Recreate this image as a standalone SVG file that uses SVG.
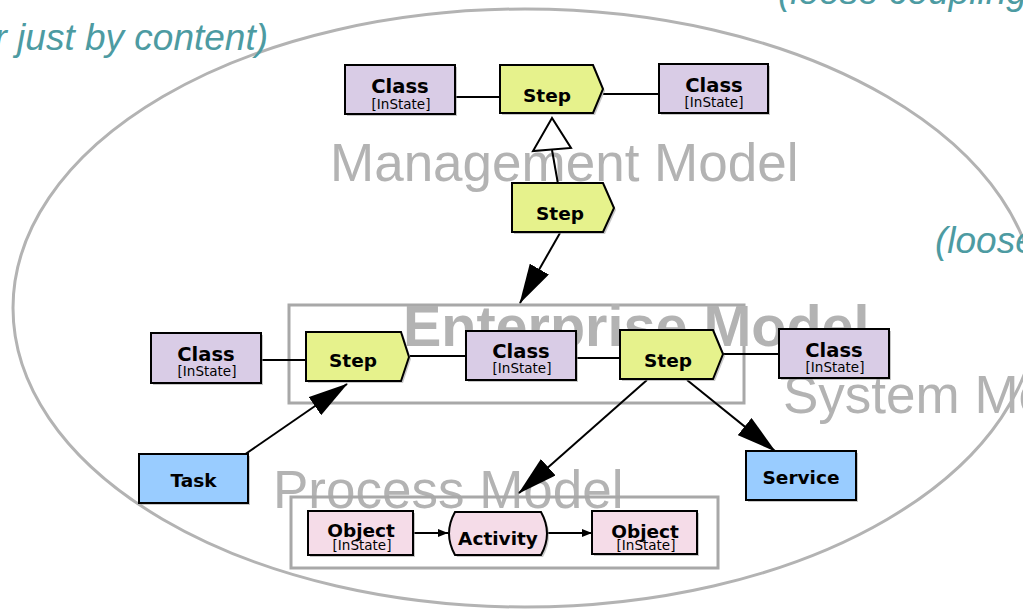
<svg xmlns="http://www.w3.org/2000/svg" width="1023" height="610" viewBox="0 0 1023 610">
<style>
.note{font-family:"Liberation Sans",Arial,sans-serif;font-style:italic;font-size:37px;fill:#4d9ba2}
.model{font-family:"Liberation Sans",Arial,sans-serif;font-size:53px;fill:#b3b3b3}
.frame{fill:none;stroke:#a8a8a8;stroke-width:3}
.sh{fill:#9a9a9a;opacity:.55}
.cls{fill:#d9cce6;stroke:#000;stroke-width:2}
.step{fill:#e6f28c;stroke:#000;stroke-width:2}
.blue{fill:#99ccff;stroke:#000;stroke-width:2}
.pink{fill:#f5dce8;stroke:#000;stroke-width:2}
.t{font-family:"DejaVu Sans",Verdana,sans-serif;font-weight:bold;font-size:18.5px;fill:#000;text-anchor:middle}
.tc{font-size:19.5px}
.s{font-family:"DejaVu Sans",Verdana,sans-serif;font-size:13.5px;fill:#000;text-anchor:middle}
.c{stroke:#000;stroke-width:2;fill:none}
</style>
<defs>
<marker id="big" viewBox="0 0 40 22" markerWidth="40" markerHeight="22" refX="39" refY="11" orient="auto" markerUnits="userSpaceOnUse"><path d="M0,0 L40,11 L0,22 Z" fill="#000"/></marker>
<marker id="small" viewBox="0 0 10 8" markerWidth="10" markerHeight="8" refX="10" refY="4" orient="auto" markerUnits="userSpaceOnUse"><path d="M0,0 L10,4 L0,8 Z" fill="#000"/></marker>
</defs>
<rect width="1023" height="610" fill="#fff"/>
<ellipse cx="525" cy="308" rx="512" ry="299" fill="none" stroke="#b3b3b3" stroke-width="3"/>
<text class="note" x="268" y="50" text-anchor="end">r just by content)</text>
<text class="note" x="778" y="4">(loose coupling</text>
<text class="note" x="935" y="253">(loose</text>
<text class="model" x="330" y="181">Management Model</text>
<text class="model" x="783" y="413">System Model</text>
<text class="model" x="273" y="508">Process Model</text>
<rect class="frame" x="289" y="305" width="455" height="98"/>
<text class="model" x="403" y="346" style="font-weight:bold;font-size:57.5px">Enterprise Model</text>
<rect class="frame" x="291" y="497" width="427" height="71"/>
<g id="connectors">
<line class="c" x1="455" y1="97" x2="500" y2="97"/>
<line class="c" x1="603" y1="94" x2="659" y2="94"/>
<line class="c" x1="558" y1="184" x2="552" y2="150"/>
<polygon points="552,118 533,151 571,148" fill="#fff" stroke="#000" stroke-width="2"/>
<line class="c" x1="560" y1="233" x2="520" y2="303" marker-end="url(#big)"/>
<line class="c" x1="262" y1="360" x2="306" y2="360"/>
<line class="c" x1="410" y1="356" x2="466" y2="356"/>
<line class="c" x1="576" y1="358" x2="620" y2="358"/>
<line class="c" x1="723" y1="354" x2="779" y2="354"/>
<line class="c" x1="244" y1="455" x2="347" y2="384" marker-end="url(#big)"/>
<line class="c" x1="647" y1="380" x2="519" y2="493" marker-end="url(#big)"/>
<line class="c" x1="687" y1="380" x2="775" y2="451" marker-end="url(#big)"/>
<line class="c" x1="414" y1="533" x2="448" y2="533" stroke-width="1.5" marker-end="url(#small)"/>
<line class="c" x1="548" y1="533" x2="592" y2="533" stroke-width="1.5" marker-end="url(#small)"/>
</g>
<g id="class1"><rect class="sh" x="347" y="67" width="110" height="49"/><rect class="cls" x="345" y="65" width="110" height="49"/><text class="t tc" x="400" y="93">Class</text><text class="s" x="401" y="109">[InState]</text></g>
<g id="step1"><polygon class="sh" points="502,67 595,67 605,91 595,115 502,115"/><polygon class="step" points="500,65 593,65 603,89 593,113 500,113"/><text class="t" x="547" y="102">Step</text></g>
<g id="class2"><rect class="sh" x="661" y="66" width="109" height="49"/><rect class="cls" x="659" y="64" width="109" height="49"/><text class="t tc" x="714" y="92">Class</text><text class="s" x="714" y="107">[InState]</text></g>
<g id="step2"><polygon class="sh" points="514,185 605,185 616,210 605,234 514,234"/><polygon class="step" points="512,183 603,183 614,208 603,232 512,232"/><text class="t" x="560" y="220">Step</text></g>
<g id="class3"><rect class="sh" x="153" y="335" width="110" height="50"/><rect class="cls" x="151" y="333" width="110" height="50"/><text class="t tc" x="206" y="361">Class</text><text class="s" x="207" y="376">[InState]</text></g>
<g id="step3"><polygon class="sh" points="308,334 403,334 411,359 403,383 308,383"/><polygon class="step" points="306,332 401,332 409,357 401,381 306,381"/><text class="t" x="353" y="367">Step</text></g>
<g id="class4"><rect class="sh" x="468" y="333" width="110" height="49"/><rect class="cls" x="466" y="331" width="110" height="49"/><text class="t tc" x="521" y="358">Class</text><text class="s" x="522" y="373">[InState]</text></g>
<g id="step4"><polygon class="sh" points="622,332 715,332 725,356 715,381 622,381"/><polygon class="step" points="620,330 713,330 723,354 713,379 620,379"/><text class="t" x="668" y="367">Step</text></g>
<g id="class5"><rect class="sh" x="781" y="331" width="110" height="49"/><rect class="cls" x="779" y="329" width="110" height="49"/><text class="t tc" x="834" y="357">Class</text><text class="s" x="835" y="372">[InState]</text></g>
<g id="task"><rect class="sh" x="141" y="456" width="109" height="49"/><rect class="blue" x="139" y="454" width="109" height="49"/><text class="t" x="193.5" y="487">Task</text></g>
<g id="service"><rect class="sh" x="748" y="453" width="110" height="49"/><rect class="blue" x="746" y="451" width="110" height="49"/><text class="t" x="801" y="484">Service</text></g>
<g id="object1"><rect class="sh" x="310" y="513" width="105" height="44"/><rect class="pink" x="308" y="511" width="105" height="44"/><text class="t" x="361" y="537">Object</text><text class="s" x="362" y="550">[InState]</text></g>
<g id="activity"><path class="sh" d="M457,514 H543 Q555,535.5 543,557 H457 Q445,535.5 457,514 Z"/><path class="pink" d="M455,512 H541 Q553,533.5 541,555 H455 Q443,533.5 455,512 Z"/><text class="t" x="498" y="545">Activity</text></g>
<g id="object2"><rect class="sh" x="594" y="513" width="105" height="43"/><rect class="pink" x="592" y="511" width="105" height="43"/><text class="t" x="645" y="538">Object</text><text class="s" x="646" y="550">[InState]</text></g>
</svg>
